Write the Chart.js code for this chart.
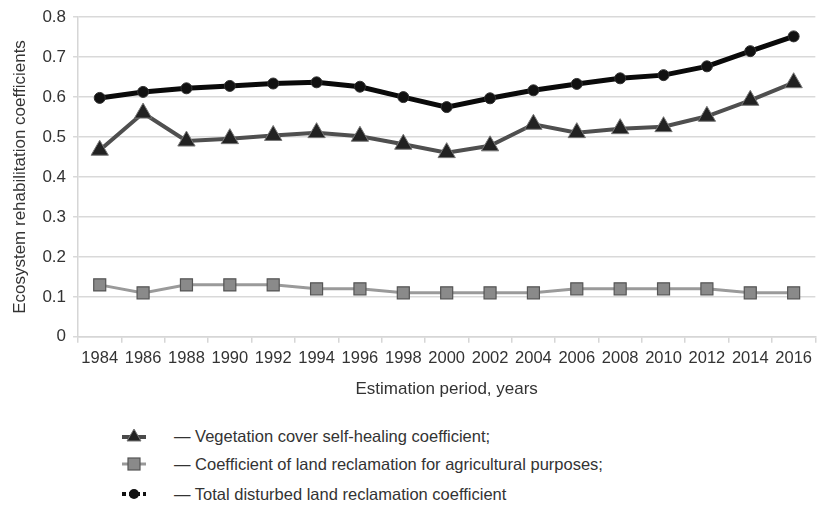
<!DOCTYPE html>
<html>
<head>
<meta charset="utf-8">
<script src="https://cdn.jsdelivr.net/npm/chart.js@4/dist/chart.umd.min.js"></script>
<style>
  html, body { margin: 0; padding: 0; background: #fff; }
  #wrap { position: relative; width: 818px; height: 506px; font-family: "Liberation Sans", Arial, sans-serif; color: #333; }
  #chart-box { position: absolute; left: 0; top: 0; width: 818px; height: 404px; }
  .leg-row { position: absolute; left: 120px; height: 24px; display: flex; align-items: center; font-size: 16.5px; color: #333; }
  .leg-row svg { width: 28px; height: 20px; margin-right: 26px; }
</style>
</head>
<body>
<div id="wrap">
  <div id="chart-box"><canvas id="c"></canvas></div>
  <div class="leg-row" style="top:424px">
    <svg viewBox="0 0 28 20"><line x1="2" y1="11" x2="26" y2="11" stroke="#4a4a4a" stroke-width="4"/><polygon points="14,3 21,15 7,15" fill="#222" stroke="#777" stroke-width="1"/></svg>
    <span>— Vegetation cover self-healing coefficient;</span>
  </div>
  <div class="leg-row" style="top:452px">
    <svg viewBox="0 0 28 20"><line x1="2" y1="10" x2="26" y2="10" stroke="#999" stroke-width="3"/><rect x="8" y="4" width="12" height="12" fill="#8a8a8a" stroke="#555" stroke-width="1.2"/></svg>
    <span>— Coefficient of land reclamation for agricultural purposes;</span>
  </div>
  <div class="leg-row" style="top:482px">
    <svg viewBox="0 0 28 20"><line x1="2" y1="10" x2="26" y2="10" stroke="#111" stroke-width="4" stroke-dasharray="4,3"/><circle cx="14" cy="10" r="5" fill="#111"/></svg>
    <span>— Total disturbed land reclamation coefficient</span>
  </div>
</div>
<script>
var years = ["1984", "1986", "1988", "1990", "1992", "1994", "1996", "1998", "2000",
             "2002", "2004", "2006", "2008", "2010", "2012", "2014", "2016"];

var vegetation   = [0.467, 0.560, 0.490, 0.496, 0.504, 0.511, 0.502, 0.482, 0.461,
                    0.478, 0.532, 0.511, 0.521, 0.526, 0.552, 0.592, 0.636];
var agricultural = [0.13, 0.11, 0.13, 0.13, 0.13, 0.12, 0.12, 0.11, 0.11,
                    0.11, 0.11, 0.12, 0.12, 0.12, 0.12, 0.11, 0.11];
var totalLand    = [0.598, 0.613, 0.622, 0.628, 0.634, 0.637, 0.626, 0.600, 0.575,
                    0.597, 0.617, 0.633, 0.647, 0.655, 0.677, 0.715, 0.752];

var yTicks = [0, 0.1, 0.2, 0.3, 0.4, 0.5, 0.6, 0.7, 0.8];

var FONT = "'Liberation Sans', Arial, sans-serif";

new Chart(document.getElementById("c"), {
  type: "line",
  data: {
    labels: years,
    datasets: [
      {
        label: "Coefficient of land reclamation for agricultural purposes",
        data: agricultural,
        borderColor: "#9a9a9a",
        borderWidth: 3,
        pointStyle: "rect",
        pointRadius: 8.5,
        pointBackgroundColor: "#8a8a8a",
        pointBorderColor: "#555",
        pointBorderWidth: 1.2,
        tension: 0,
      },
      {
        label: "Vegetation cover self-healing coefficient",
        data: vegetation,
        borderColor: "#4f4f4f",
        borderWidth: 4,
        pointStyle: "triangle",
        pointRadius: 10,
        pointBackgroundColor: "#222",
        pointBorderColor: "#777",
        pointBorderWidth: 1,
        tension: 0,
      },
      {
        label: "Total disturbed land reclamation coefficient",
        data: totalLand,
        borderColor: "#0a0a0a",
        borderWidth: 5,
        pointStyle: "circle",
        pointRadius: 5.5,
        pointBackgroundColor: "#111",
        pointBorderColor: "#333",
        pointBorderWidth: 1,
        tension: 0,
      },
    ],
  },
  options: {
    responsive: true,
    maintainAspectRatio: false,
    animation: false,
    layout: { autoPadding: false, padding: { left: 6, top: 5, right: -4, bottom: 0 } },
    plugins: { legend: { display: false }, tooltip: { enabled: false } },
    scales: {
      x: {
        offset: true,
        grid: { display: true, drawOnChartArea: false, offset: true, tickLength: 6, color: "#d6d6d6", lineWidth: 1.5 },
        border: { display: true, color: "#d6d6d6", width: 1.5 },
        ticks: { color: "#333", font: { family: FONT, size: 16.5 }, padding: 6, maxRotation: 0, autoSkip: false },
        title: { display: true, text: "Estimation period, years", color: "#333", font: { family: FONT, size: 17 }, padding: { top: 5 } },
      },
      y: {
        min: 0,
        max: 0.8,
        afterBuildTicks: function(axis) { axis.ticks = yTicks.map(function(v) { return { value: v }; }); },
        grid: { color: "#d9d9d9", lineWidth: 1.5, tickLength: 5 },
        border: { display: true, color: "#d6d6d6", width: 1.5 },
        ticks: {
          color: "#333", font: { family: FONT, size: 17 }, padding: 7,
          callback: function(v) { return v === 0 ? "0" : Number(v).toFixed(1); },
        },
        title: { display: true, text: "Ecosystem rehabilitation coefficients", color: "#333", font: { family: FONT, size: 17 }, padding: { bottom: 5 } },
      },
    },
  },
});
</script>
</body>
</html>
